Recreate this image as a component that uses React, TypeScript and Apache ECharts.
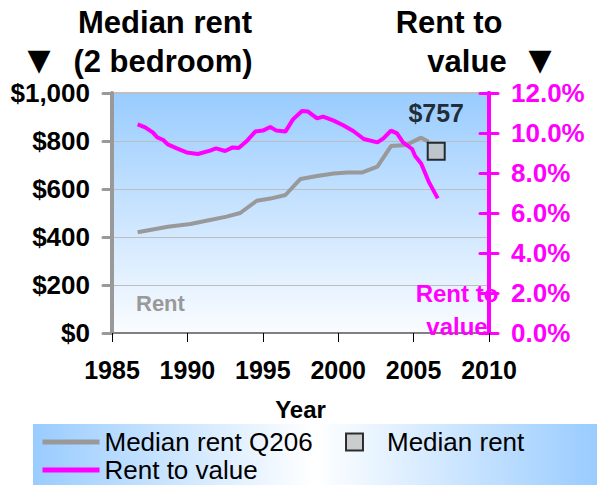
import React, { useEffect, useRef } from "react";
import * as echarts from "echarts";

const rentYears = [1986.7, 1988.7, 1990.2, 1991.5, 1992.6, 1993.5, 1994.6, 1995.5, 1996.5, 1997.5, 1998.6, 1999.7, 2000.6, 2001.6, 2002.6, 2003.5, 2004.5, 2005.5, 2006.0];
const rentValues = [420, 443, 454, 471, 485, 500, 551, 560, 575, 642, 654, 665, 669, 669, 693, 779, 783, 814, 797];

const ratioYears = [1986.7, 1987.2, 1987.7, 1988.0, 1988.4, 1988.7, 1989.3, 1989.95, 1990.7, 1991.5, 1991.9, 1992.5, 1993.0, 1993.4, 1993.9, 1994.5, 1995.0, 1995.5, 1995.9, 1996.5, 1997.0, 1997.6, 1998.0, 1998.6, 1999.0, 1999.7, 2000.3, 2001.0, 2001.7, 2002.6, 2003.0, 2003.5, 2003.9, 2004.3, 2004.9, 2005.1, 2005.5, 2006.0, 2006.6];
const ratioValues = [10.43, 10.28, 10.03, 9.78, 9.65, 9.43, 9.23, 9.03, 8.95, 9.12, 9.23, 9.1, 9.28, 9.25, 9.57, 10.07, 10.12, 10.3, 10.12, 10.07, 10.68, 11.1, 11.07, 10.73, 10.82, 10.62, 10.4, 10.1, 9.7, 9.53, 9.73, 10.12, 9.98, 9.53, 9.2, 8.85, 8.48, 7.57, 6.73];

const medianRentPoint = [2006.5, 757];

const xTicks = { min: 1985, max: 2010, interval: 5 };
const leftTicks = { min: 0, max: 1000, interval: 200 };
const rightTicks = { min: 0, max: 12, interval: 2 };

const FONT = '"Liberation Sans", Arial, sans-serif';
const GRAY = "#999999";
const MAGENTA = "#FF00FF";

export default function App() {
  const ref = useRef<HTMLDivElement>(null);
  useEffect(() => {
    if (!ref.current) return;
    const chart = echarts.init(ref.current, undefined, { renderer: "svg" });
    const rentData = rentYears.map((y, i) => [y, rentValues[i]]);
    const ratioData = ratioYears.map((y, i) => [y, ratioValues[i]]);
    const bold = (size: number, color: string) => ({
      fontFamily: FONT,
      fontWeight: "bold" as const,
      fontSize: size,
      color,
    });
    const gtext = (text: string, x: number, y: number, size: number, fill: string, align = "center", family = FONT) => ({
      type: "text",
      x,
      y,
      z: 100,
      style: {
        text,
        fill,
        font: `bold ${size}px ${family}`,
        align,
        verticalAlign: "middle",
      },
    });
    const legendText = { fontFamily: FONT, fontSize: 26, color: "#000" };
    chart.setOption({
      animation: false,
      grid: {
        left: 112,
        right: 108,
        top: 93,
        bottom: 152,
        show: true,
        borderColor: "#C0C0C0",
        borderWidth: 2,
        backgroundColor: new echarts.graphic.LinearGradient(0, 0, 0, 1, [
          { offset: 0, color: "#99CCFF" },
          { offset: 1, color: "#FAFCFF" },
        ]),
      },
      graphic: [
        {
          type: "rect",
          shape: { x: 33, y: 424, width: 564, height: 61 },
          z: -10,
          style: {
            fill: new echarts.graphic.LinearGradient(0, 0, 1, 0, [
              { offset: 0, color: "#99CCFF" },
              { offset: 0.5, color: "#FFFFFF" },
              { offset: 1, color: "#99CCFF" },
            ]),
          },
        },
        gtext("Median rent", 165, 22, 31, "#000"),
        gtext("(2 bedroom)", 163, 61, 31, "#000"),
        gtext("▼", 39, 59, 30, "#000", "center", '"DejaVu Sans", sans-serif'),
        gtext("Rent to", 449, 22, 31, "#000"),
        gtext("value", 467, 61, 31, "#000"),
        gtext("▼", 540, 59, 30, "#000", "center", '"DejaVu Sans", sans-serif'),
        gtext("Rent", 136, 303, 22, GRAY, "left"),
        gtext("Rent to", 457, 293, 24, MAGENTA),
        gtext("value", 457, 326, 24, MAGENTA),
      ],
      legend: [
        {
          left: 40,
          top: 429,
          padding: 0,
          itemWidth: 57,
          itemHeight: 17,
          itemStyle: { opacity: 0 },
          lineStyle: { width: 5 },
          data: ["Median rent Q206"],
          textStyle: legendText,
        },
        {
          left: 345,
          top: 429,
          padding: 0,
          itemWidth: 17,
          itemHeight: 17,
          data: ["Median rent"],
          textStyle: { ...legendText, padding: [0, 0, 0, 19] },
        },
        {
          left: 40,
          top: 457,
          padding: 0,
          itemWidth: 57,
          itemHeight: 17,
          itemStyle: { opacity: 0 },
          lineStyle: { width: 5 },
          data: ["Rent to value"],
          textStyle: legendText,
        },
      ],
      xAxis: {
        type: "value",
        ...xTicks,
        name: "Year",
        nameLocation: "middle",
        nameGap: 76,
        nameTextStyle: { ...bold(24, "#000"), verticalAlign: "middle" },
        axisLine: { lineStyle: { color: "#808080", width: 2 } },
        axisTick: { show: true, length: 9, lineStyle: { color: "#000", width: 1 } },
        axisLabel: { ...bold(25, "#000"), margin: 24, formatter: (v: number) => String(v) },
        splitLine: { show: false },
      },
      yAxis: [
        {
          type: "value",
          position: "left",
          ...leftTicks,
          axisLine: { show: true, lineStyle: { color: GRAY, width: 4, cap: "round" } },
          axisTick: { show: true, length: 9, lineStyle: { color: GRAY, width: 3, cap: "round" } },
          axisLabel: {
            ...bold(26, "#000"),
            margin: 22,
            formatter: (v: number) => "$" + v.toLocaleString("en-US"),
          },
          splitLine: { show: true, lineStyle: { color: "#BDBDBD", width: 1 } },
        },
        {
          type: "value",
          position: "right",
          ...rightTicks,
          axisLine: { show: true, lineStyle: { color: MAGENTA, width: 4 } },
          axisTick: { show: true, length: 9, lineStyle: { color: MAGENTA, width: 3, cap: "round" } },
          axisLabel: {
            ...bold(26, MAGENTA),
            margin: 22,
            formatter: (v: number) => v.toFixed(1) + "%",
          },
          splitLine: { show: false },
        },
        {
          type: "value",
          position: "right",
          ...rightTicks,
          axisLine: { show: true, lineStyle: { color: MAGENTA, width: 4 } },
          axisTick: { show: true, inside: true, length: 9, lineStyle: { color: MAGENTA, width: 3, cap: "round" } },
          axisLabel: { show: false },
          splitLine: { show: false },
        },
      ],
      series: [
        {
          name: "Median rent Q206",
          type: "line",
          yAxisIndex: 0,
          data: rentData,
          showSymbol: false,
          symbol: "none",
          lineStyle: { color: GRAY, width: 4 },
          itemStyle: { color: GRAY },
          z: 3,
        },
        {
          name: "Median rent",
          type: "scatter",
          yAxisIndex: 0,
          data: [medianRentPoint],
          symbol: "rect",
          symbolSize: 17,
          itemStyle: { color: "#C0C0C0", borderColor: "#000", borderWidth: 2 },
          label: {
            show: true,
            position: "top",
            distance: 16,
            ...bold(25, "#000"),
            formatter: (p: any) => "$" + p.value[1],
          },
          z: 5,
        },
        {
          name: "Rent to value",
          type: "line",
          yAxisIndex: 1,
          data: ratioData,
          showSymbol: false,
          symbol: "none",
          lineStyle: { color: MAGENTA, width: 4 },
          itemStyle: { color: MAGENTA },
          z: 4,
        },
      ],
    });
    return () => chart.dispose();
  }, []);
  return (
    <div
      ref={ref}
      style={{ position: "absolute", left: 0, top: 0, width: 597, height: 485, background: "#fff" }}
    />
  );
}
